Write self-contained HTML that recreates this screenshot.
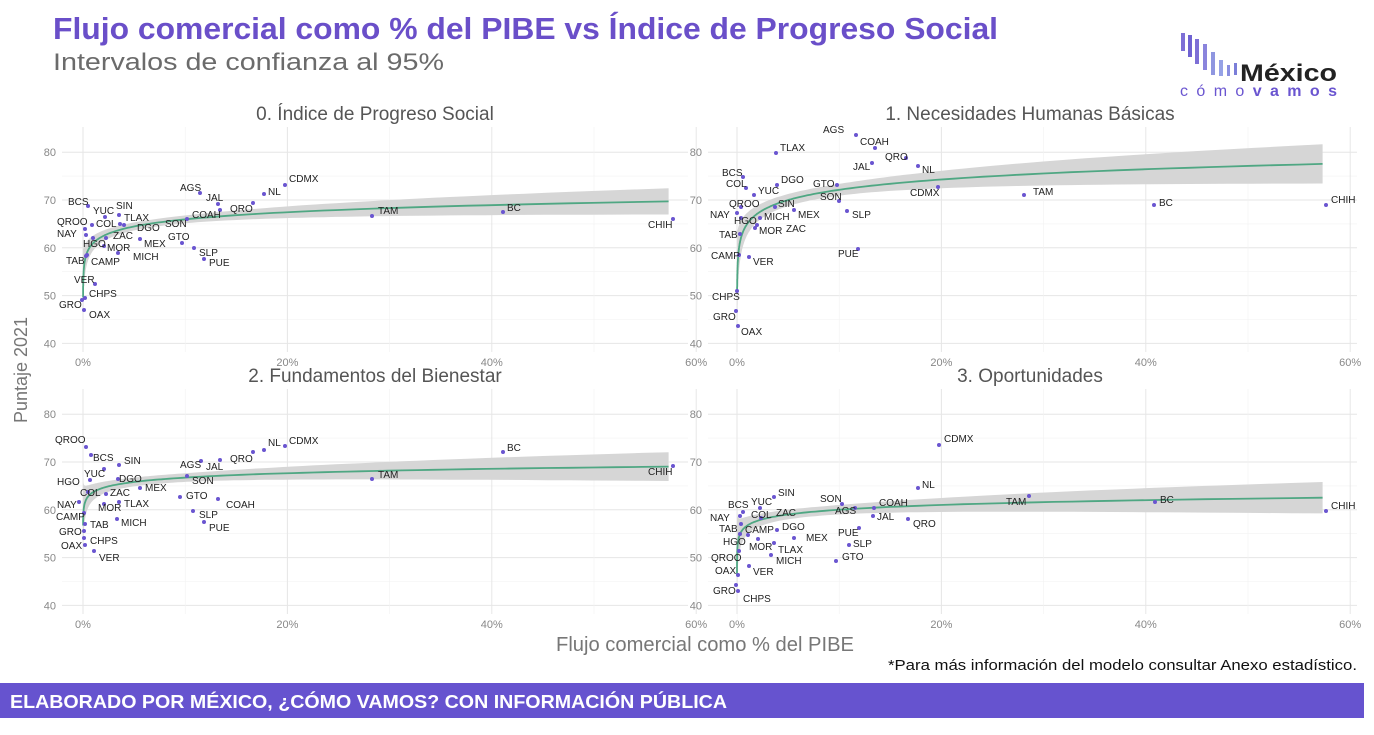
<!DOCTYPE html>
<html><head><meta charset="utf-8"><style>
body{margin:0;background:#fff;width:1374px;height:730px;overflow:hidden;font-family:"Liberation Sans",sans-serif}
</style></head><body>
<svg id="s" width="1374" height="730" xmlns="http://www.w3.org/2000/svg" font-family="Liberation Sans, DejaVu Sans, sans-serif">
<text x="53" y="39" font-size="31" font-weight="bold" fill="#6a4fc9" textLength="945" lengthAdjust="spacingAndGlyphs">Flujo comercial como % del PIBE vs Índice de Progreso Social</text>
<text x="53" y="70" font-size="24" fill="#6b6b6b" textLength="391" lengthAdjust="spacingAndGlyphs">Intervalos de confianza al 95%</text>
<g fill="#7d6fd6">
<rect x="1181" y="33" width="4" height="18"/><rect x="1188" y="35" width="4" height="22" fill="#6f62d2"/><rect x="1195" y="39" width="4" height="25"/><rect x="1203" y="44" width="4" height="26" fill="#8a84dc"/><rect x="1211" y="52" width="4" height="23" fill="#8f96e0"/><rect x="1219" y="60" width="4" height="16" fill="#96a2e6"/><rect x="1227" y="65" width="3" height="11" fill="#8a8ee0"/><rect x="1234" y="63" width="3" height="12" fill="#7b7ed8"/>
</g>
<text x="1240" y="81" font-size="24" font-weight="bold" fill="#222" textLength="97" lengthAdjust="spacingAndGlyphs">México</text>
<text x="1180" y="96" font-size="16" fill="#6a55d0" textLength="157">cómo<tspan font-weight="bold">vamos</tspan></text>
<g id="g"></g>
<text x="705" y="651" font-size="20" fill="#777" text-anchor="middle" textLength="298" lengthAdjust="spacingAndGlyphs">Flujo comercial como % del PIBE</text>
<text transform="translate(27,370) rotate(-90)" font-size="18" fill="#777" text-anchor="middle">Puntaje 2021</text>
<text x="1357" y="670" font-size="15" fill="#111" text-anchor="end" textLength="469" lengthAdjust="spacingAndGlyphs">*Para más información del modelo consultar Anexo estadístico.</text>
<rect x="0" y="683" width="1364" height="35" fill="#6653cf"/>
<text x="10" y="708" font-size="18" font-weight="bold" fill="#fff" textLength="717" lengthAdjust="spacingAndGlyphs">ELABORADO POR MÉXICO, ¿CÓMO VAMOS? CON INFORMACIÓN PÚBLICA</text>
</svg>
<script>
const NS="http://www.w3.org/2000/svg",g=document.getElementById('g');
function el(t,a,txt){const e=document.createElementNS(NS,t);for(const k in a)e.setAttribute(k,a[k]);if(txt)e.textContent=txt;g.appendChild(e);return e;}
const P=[
{x0:83,xr:[62,688],y70:200,yr:[127,352],title:"0. Índice de Progreso Social",tx:375,ty:120,a:61,b:2.15,xmin:0.005,s:1,
pts:[["CDMX",285,185,289,182],["NL",264,194,268,195],["AGS",200,193,180,191],["JAL",218,204,206,201],["",220,210],["QRO",253,203,230,212],["COAH",187,219,192,218],["SON",0,0,165,227],["GTO",182,243,168,240],["SLP",194,248,199,256],["PUE",204,259,209,266],["SIN",119,215,116,209],["TLAX",120,224,124,221],["DGO",124,225,137,231],["MEX",140,239,144,247],["ZAC",106,238,113,239],["MOR",104,246,107,251],["MICH",118,253,133,260],["HGO",93,238,83,247],["CAMP",87,255,91,265],["TAB",86,256,66,264],["BCS",88,206,68,205],["YUC",105,217,93,214],["COL",92,225,96,227],["QROO",85,229,57,225],["NAY",86,235,57,237],["VER",95,284,74,283],["CHPS",85,298,89,297],["GRO",82,300,59,308],["OAX",84,310,89,318],["TAM",372,216,378,214],["BC",503,212,507,211],["CHIH",673,219,648,228]]},
{x0:737,xr:[708,1357],y70:200,yr:[127,352],title:"1. Necesidades Humanas Básicas",tx:1030,ty:120,a:65,b:3.1,xmin:0.01,s:1.5,
pts:[["AGS",856,135,823,133],["COAH",875,148,860,145],["TLAX",776,153,780,151],["QRO",906,158,885,160],["NL",918,166,922,173],["JAL",872,163,853,170],["BCS",743,177,722,176],["COL",746,188,726,187],["DGO",777,185,781,183],["YUC",754,195,758,194],["GTO",837,185,813,187],["CDMX",938,187,910,196],["SON",839,201,820,200],["TAM",1024,195,1033,195],["BC",1154,205,1159,206],["CHIH",1326,205,1331,203],["QROO",741,207,729,207],["SIN",775,207,778,207],["NAY",737,213,710,218],["MEX",794,210,798,218],["SLP",847,211,852,218],["MICH",760,218,764,220],["HGO",741,218,734,224],["ZAC",757,225,786,232],["MOR",755,228,759,234],["TAB",740,234,719,238],["CAMP",739,255,711,259],["VER",749,257,753,265],["PUE",858,249,838,257],["CHPS",737,291,712,300],["GRO",736,311,713,320],["OAX",738,326,741,335]]},
{x0:83,xr:[62,688],y70:462,yr:[389,614],title:"2. Fundamentos del Bienestar",tx:375,ty:382,a:63.7,b:1.32,xmin:0.005,s:1.1,
pts:[["CDMX",285,446,289,444],["NL",264,450,268,446],["QRO",253,452,230,462],["JAL",220,460,206,470],["AGS",201,461,180,468],["BC",503,452,507,451],["CHIH",673,466,648,475],["TAM",372,479,378,478],["SON",187,476,192,484],["QROO",86,447,55,443],["BCS",91,455,93,461],["SIN",119,465,124,464],["YUC",104,469,84,477],["DGO",118,479,119,482],["HGO",90,480,57,485],["MEX",140,488,145,491],["COL",88,492,80,496],["ZAC",106,494,110,496],["GTO",180,497,186,499],["NAY",79,502,57,508],["MOR",104,504,98,511],["TLAX",119,502,124,507],["COAH",218,499,226,508],["CAMP",84,513,56,520],["SLP",193,511,199,518],["MICH",117,519,121,526],["PUE",204,522,209,531],["TAB",85,524,90,528],["GRO",84,531,59,535],["CHPS",84,538,90,544],["OAX",85,545,61,549],["VER",94,551,99,561]]},
{x0:737,xr:[708,1357],y70:462,yr:[389,614],title:"3. Oportunidades",tx:1030,ty:382,a:56.7,b:1.44,xmin:0.0008,s:1.2,
pts:[["CDMX",939,445,944,442],["NL",918,488,922,488],["TAM",1029,496,1006,505],["BC",1155,502,1160,503],["CHIH",1326,511,1331,509],["SON",842,504,820,502],["COAH",874,508,879,506],["AGS",855,508,835,514],["JAL",873,516,877,520],["QRO",908,519,913,527],["SIN",774,497,778,496],["YUC",760,508,751,505],["BCS",743,512,728,508],["COL",761,518,751,518],["ZAC",0,0,776,516],["NAY",740,516,710,521],["TAB",741,524,719,532],["DGO",777,530,782,530],["CAMP",748,535,745,533],["HGO",740,534,723,545],["MEX",794,538,806,541],["PUE",859,528,838,536],["SLP",849,545,853,547],["MOR",758,539,749,550],["TLAX",774,543,778,553],["MICH",771,555,776,564],["GTO",836,561,842,560],["QROO",739,551,711,561],["VER",749,566,753,575],["OAX",738,575,715,574],["GRO",736,585,713,594],["CHPS",738,591,743,602]]}
];
for(const p of P){
 const sx=10.22, sy=4.78;
 const X=x=>p.x0+x*sx, Y=v=>p.y70-(v-70)*sy;
 for(let v=40;v<=80;v+=5){const y=Y(v);if(y<p.yr[0]||y>p.yr[1])continue;el('line',{x1:p.xr[0],x2:p.xr[1],y1:y,y2:y,stroke:v%10?'#f2f2f2':'#e6e6e6','stroke-width':v%10?0.6:1});}
 for(let x=0;x<=60;x+=10){const xx=X(x);el('line',{x1:xx,x2:xx,y1:p.yr[0],y2:p.yr[1],stroke:x%20?'#f2f2f2':'#e6e6e6','stroke-width':x%20?0.6:1});}
 for(let v=40;v<=80;v+=10){el('text',{x:p.xr[0]-6,y:Y(v)+4,'font-size':11,fill:'#888','text-anchor':'end'},String(v));}
 for(let x=0;x<=60;x+=20){el('text',{x:X(x),y:p.yr[1]+14,'font-size':11,fill:'#888','text-anchor':'middle'},x+'%');}
 el('text',{x:p.tx,y:p.ty,'font-size':19,fill:'#555','text-anchor':'middle'},p.title);
 const xs=[];for(let i=0;i<=200;i++){xs.push(p.xmin*Math.pow(57.3/p.xmin,i/200));}
 const f=x=>p.a+p.b*Math.log(x), h=x=>p.s*(0.8+0.5*Math.pow(Math.log(x)-Math.log(8),2)*(x<8?0.35:1));
 let up=xs.map(x=>X(x).toFixed(1)+','+Y(f(x)+h(x)).toFixed(1));
 let dn=xs.slice().reverse().map(x=>X(x).toFixed(1)+','+Y(f(x)-h(x)).toFixed(1));
 el('polygon',{points:up.concat(dn).join(' '),fill:'#d6d6d6'});
 el('polyline',{points:xs.map(x=>X(x).toFixed(1)+','+Y(f(x)).toFixed(1)).join(' '),fill:'none',stroke:'#4fa783','stroke-width':1.8});
 for(const q of p.pts){
  if(q[1])el('circle',{cx:q[1],cy:q[2],r:2,fill:'#6a55d0'});
  if(q[0])el('text',{x:q[3],y:q[4],'font-size':10,fill:'#222'},q[0]);
 }
}
</script>
</body></html>
